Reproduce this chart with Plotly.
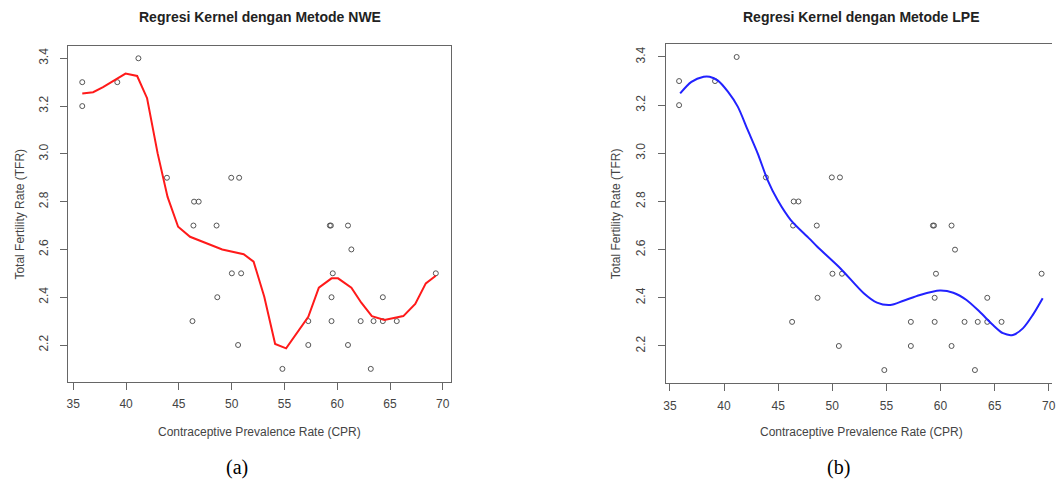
import plotly.graph_objects as go

W, H = 1056, 481

# ---- data ----
cpr = [35.85, 35.85, 39.17, 41.17, 43.87, 46.44, 46.88, 49.96, 50.71, 46.38, 48.57,
       59.30, 59.40, 61.02, 61.34, 50.02, 50.90, 59.58, 69.34, 48.64, 59.46, 64.32,
       46.29, 57.26, 59.46, 62.22, 63.44, 64.32, 65.64, 50.61, 57.26, 61.02, 54.81, 63.18]
tfr = [3.3, 3.2, 3.3, 3.4, 2.9, 2.8, 2.8, 2.9, 2.9, 2.7, 2.7,
       2.7, 2.7, 2.7, 2.6, 2.5, 2.5, 2.5, 2.5, 2.4, 2.4, 2.4,
       2.3, 2.3, 2.3, 2.3, 2.3, 2.3, 2.3, 2.2, 2.2, 2.2, 2.1, 2.1]

nwe_x = [35.85, 36.88, 37.82, 38.91, 39.95, 41.05, 41.99, 42.99, 43.93, 44.93, 46.06,
         49.11, 51.14, 52.08, 53.09, 54.12, 55.16, 57.26, 58.26, 59.46, 60.08, 61.34,
         62.28, 63.28, 64.47, 66.26, 67.39, 68.39, 69.34]
nwe_y = [3.253, 3.258, 3.279, 3.309, 3.336, 3.326, 3.233, 3.002, 2.82, 2.695, 2.653,
         2.60, 2.58, 2.549, 2.402, 2.204, 2.186, 2.318, 2.44, 2.479, 2.479, 2.44,
         2.377, 2.321, 2.305, 2.321, 2.372, 2.458, 2.49]

lpe_x = [35.95, 36.99, 38.12, 38.67, 39.44, 40.36, 41.27, 42.19, 43.11, 44.03, 44.95,
         46.17, 47.86, 48.62, 50.76, 52.91, 54.13, 55.36, 56.58, 58.11, 59.95, 61.18,
         62.40, 63.62, 64.85, 65.77, 66.69, 67.61, 68.53, 69.44]
lpe_y = [3.249, 3.297, 3.318, 3.318, 3.302, 3.256, 3.194, 3.097, 3.0, 2.889, 2.806,
         2.723, 2.647, 2.612, 2.522, 2.419, 2.380, 2.370, 2.388, 2.412, 2.430, 2.421,
         2.391, 2.342, 2.287, 2.253, 2.246, 2.273, 2.329, 2.398]

x_ticks = [35, 40, 45, 50, 55, 60, 65, 70]
y_ticks = [2.2, 2.4, 2.6, 2.8, 3.0, 3.2, 3.4]
y_tick_text = ["2.2", "2.4", "2.6", "2.8", "3.0", "3.2", "3.4"]

titles = ["Regresi Kernel dengan Metode NWE", "Regresi Kernel dengan Metode LPE"]
x_title = "Contraceptive Prevalence Rate (CPR)"
y_title = "Total Fertility Rate (TFR)"
captions = ["(a)", "(b)"]

# ---- layout helpers (pixel -> paper) ----
def px(x):
    return x / W

def py(y):
    return 1 - y / H

FONT = "Liberation Sans, Arial, sans-serif"
TICK_FONT = dict(family=FONT, size=12, color="#444")
AX_COL = "#666"

fig = go.Figure()

marker = dict(symbol="circle-open", size=5, color="#555", line=dict(width=1, color="#555"))

fig.add_trace(go.Scatter(x=cpr, y=tfr, mode="markers", marker=marker,
                         xaxis="x", yaxis="y", showlegend=False))
fig.add_trace(go.Scatter(x=nwe_x, y=nwe_y, mode="lines",
                         line=dict(color="#ff1a1a", width=2),
                         xaxis="x", yaxis="y", showlegend=False))
fig.add_trace(go.Scatter(x=cpr, y=tfr, mode="markers", marker=marker,
                         xaxis="x2", yaxis="y2", showlegend=False))
fig.add_trace(go.Scatter(x=lpe_x, y=lpe_y, mode="lines",
                         line=dict(color="#2222ff", width=2, shape="spline", smoothing=0.8),
                         xaxis="x2", yaxis="y2", showlegend=False))

common_x = dict(tickvals=x_ticks, ticks="outside", ticklen=7, tickcolor=AX_COL,
                tickfont=TICK_FONT, showgrid=False, zeroline=False, showline=True,
                linecolor=AX_COL, linewidth=1, ticklabelstandoff=4)
common_y = dict(tickvals=y_ticks, ticktext=y_tick_text, ticks="outside", ticklen=7,
                tickcolor=AX_COL, tickfont=TICK_FONT, tickangle=-90, showgrid=False,
                zeroline=False, showline=True, linecolor=AX_COL, linewidth=1,
                ticklabelstandoff=8)

fig.update_layout(
    width=W, height=H,
    margin=dict(l=0, r=0, t=0, b=0),
    paper_bgcolor="white", plot_bgcolor="white",
    xaxis=dict(domain=[px(66.7), px(451.7)], range=[34.53, 70.79], anchor="y",
               mirror=True, **common_x),
    yaxis=dict(domain=[py(381.7), py(45.7)], range=[2.0464, 3.4527], anchor="x",
               mirror=True, **common_y),
    xaxis2=dict(domain=[px(667.3), 1.0], range=[34.596, 70.30], anchor="y2",
                mirror=True, ticklabeloverflow="allow", **common_x),
    yaxis2=dict(domain=[py(383.3), py(44.3)], range=[2.045, 3.4527], anchor="x2",
                mirror=False, **common_y),
)

annotations = []
centers = [(259.2, 213.7, 18), (864.5, 213.8, 617)]
for i, (cx, cy, ytx) in enumerate(centers):
    annotations.append(dict(text="<b>" + titles[i] + "</b>", x=px(cx), y=py(17),
                            xref="paper", yref="paper", showarrow=False,
                            xanchor="center", yanchor="middle",
                            font=dict(family=FONT, size=14, color="#222")))
    annotations.append(dict(text=x_title, x=px(cx), y=py(432),
                            xref="paper", yref="paper", showarrow=False,
                            xanchor="center", yanchor="middle",
                            font=dict(family=FONT, size=12, color="#444")))
    annotations.append(dict(text=y_title, x=px(ytx), y=py(cy),
                            xref="paper", yref="paper", showarrow=False,
                            xanchor="center", yanchor="middle", textangle=-90,
                            font=dict(family=FONT, size=12, color="#444")))
annotations.append(dict(text=captions[0], x=px(236), y=py(467), xref="paper", yref="paper",
                        showarrow=False, xanchor="center", yanchor="middle",
                        font=dict(family="Liberation Serif, Times New Roman, serif", size=20, color="#000")))
annotations.append(dict(text=captions[1], x=px(841), y=py(467), xref="paper", yref="paper",
                        showarrow=False, xanchor="center", yanchor="middle",
                        font=dict(family="Liberation Serif, Times New Roman, serif", size=20, color="#000")))
fig.update_layout(annotations=annotations)

fig.write_html("out.html")
